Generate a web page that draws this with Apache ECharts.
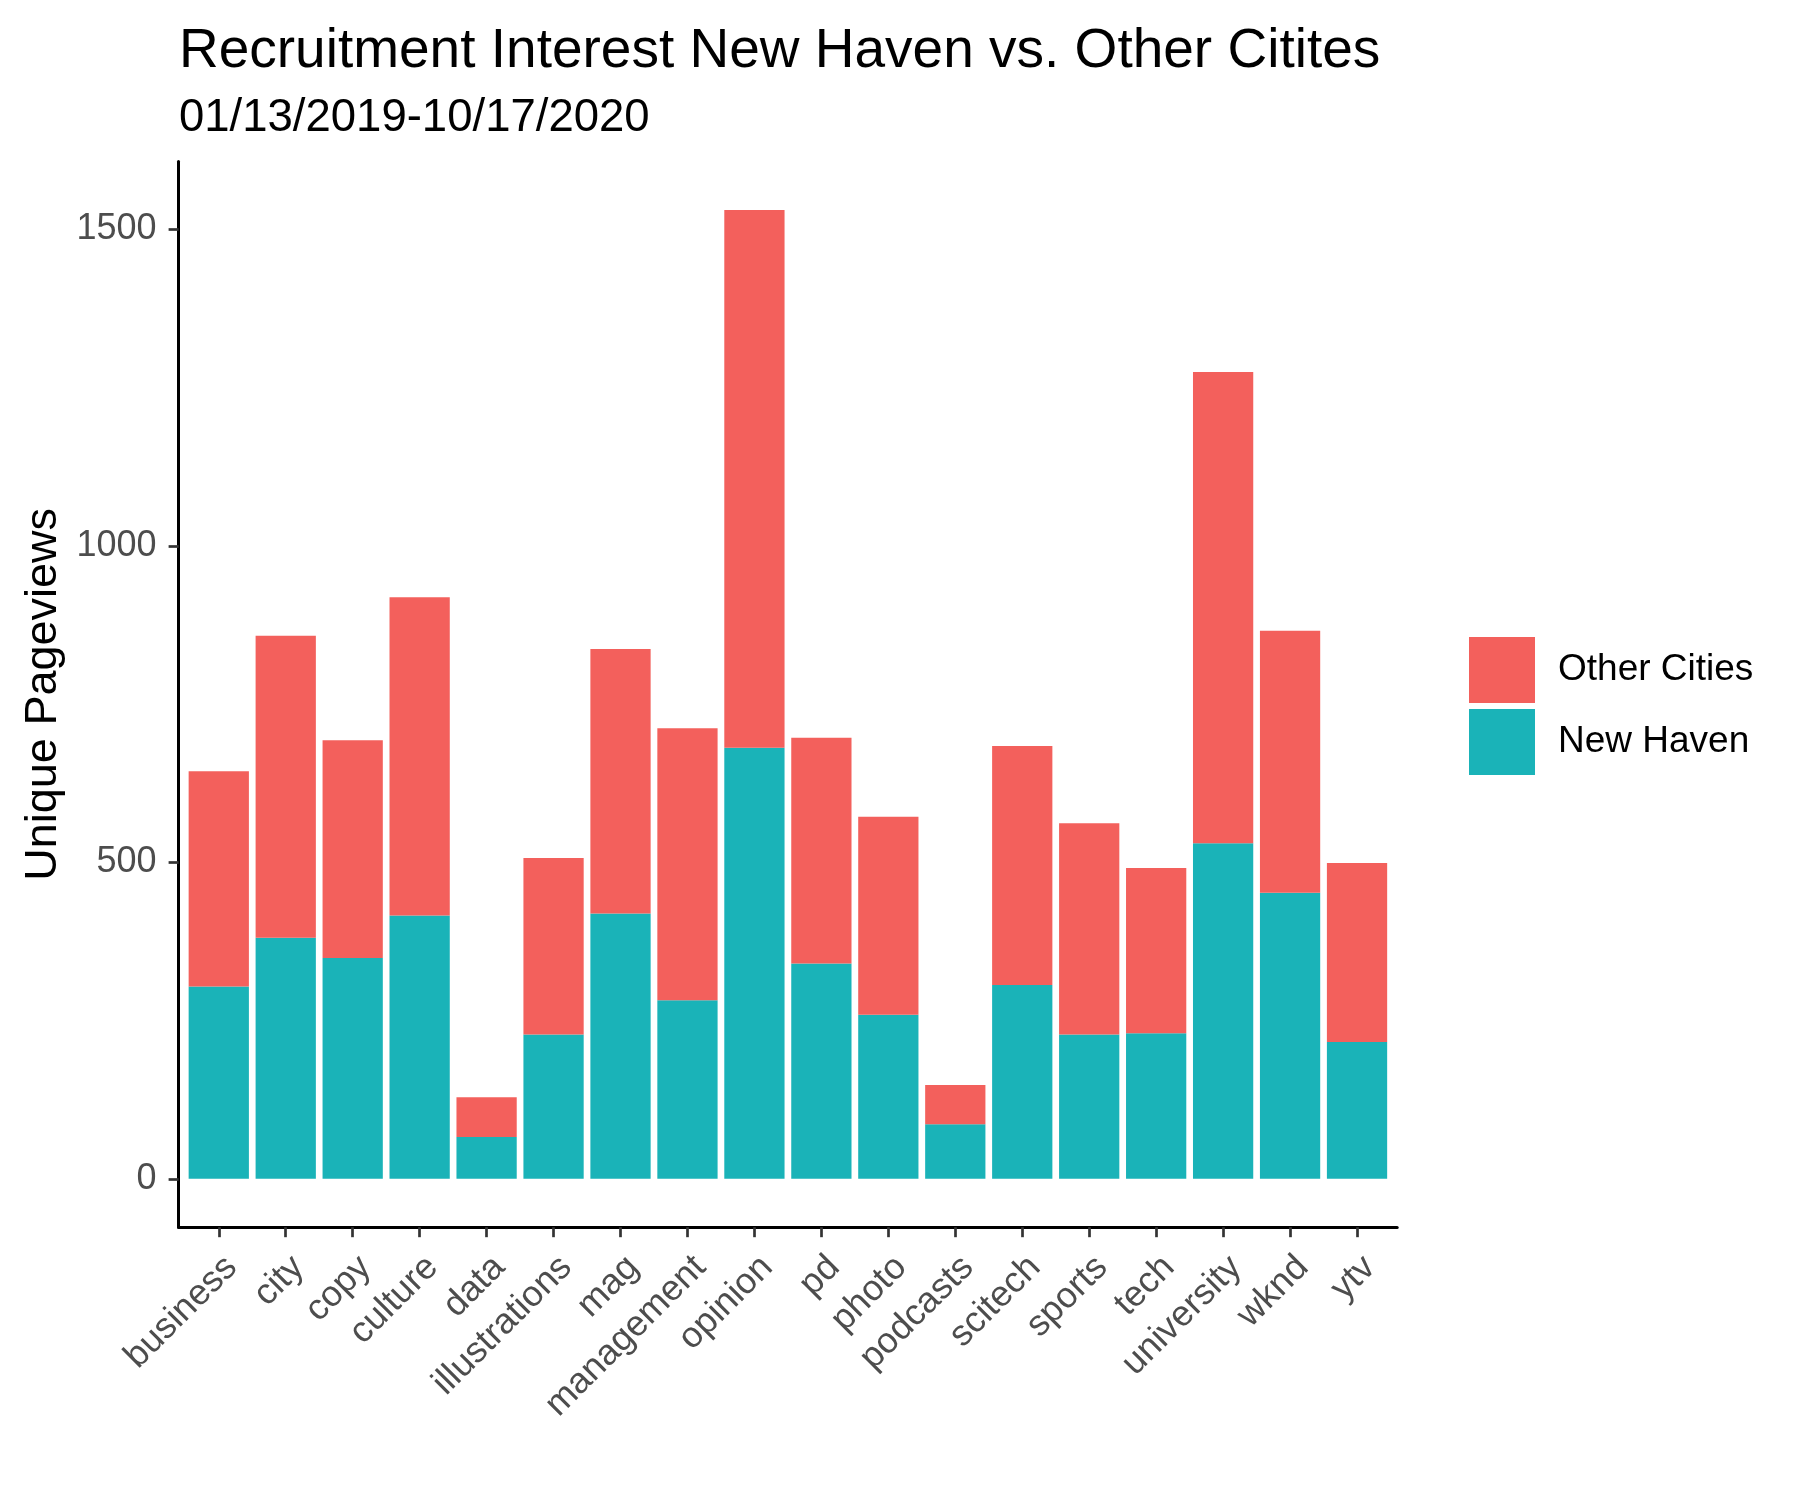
<!DOCTYPE html>
<html>
<head>
<meta charset="utf-8">
<script src="https://cdn.jsdelivr.net/npm/echarts@6/dist/echarts.min.js"></script>
<style>
html,body{margin:0;padding:0;background:#fff;}
#chart{width:1800px;height:1500px;}
</style>
</head>
<body>
<div id="chart"></div>
<script>
var categories = ['business','city','copy','culture','data','illustrations','mag','management','opinion','pd','photo','podcasts','scitech','sports','tech','university','wknd','ytv'];
var newHaven = [304, 381, 349, 416, 66, 228, 419, 282, 681, 340, 259, 86, 306, 228, 230, 530, 452, 216];
var totals = [644, 858, 693, 919, 129, 507, 837, 712, 1531, 697, 572, 148, 684, 562, 491, 1275, 866, 499];
var otherCities = totals.map(function(t, i){ return t - newHaven[i]; });
var yTicks = [0, 500, 1000, 1500];
var titleText = 'Recruitment Interest New Haven vs. Other Citites';
var subtitleText = '01/13/2019-10/17/2020';

var FONT = '"Liberation Sans", Arial, Helvetica, sans-serif';
var maxTotal = Math.max.apply(null, totals);
var pad = maxTotal * 0.05;
var idx = categories.map(function(c, i){ return i; });

// panel geometry (ggplot-like discrete expansion of 0.6 units each side)
var panelLeft = 178.6, panelRight = 1397.2, panelTop = 161.5, panelBottom = 1227.2;
var N = categories.length;
var unit = (panelRight - panelLeft) / (N - 1 + 1.2);
var barsLeft = panelLeft + 0.1 * unit;
var barsWidth = N * unit;

var chart = echarts.init(document.getElementById('chart'), null, {renderer: 'canvas'});
chart.setOption({
  animation: false,
  backgroundColor: '#ffffff',
  textStyle: {fontFamily: FONT},
  title: [
    {text: titleText, left: 174, top: 19, padding: 5, textStyle: {fontFamily: FONT, fontSize: 55, fontWeight: 'normal', color: '#000'}},
    {text: subtitleText, left: 174, top: 90, padding: 5, textStyle: {fontFamily: FONT, fontSize: 45.5, fontWeight: 'normal', color: '#000'}}
  ],
  legend: {
    orient: 'vertical',
    left: 1469,
    top: 637,
    padding: 0,
    itemWidth: 66,
    itemHeight: 66,
    itemGap: 6,
    icon: 'rect',
    data: ['Other Cities', 'New Haven'],
    textStyle: {fontFamily: FONT, fontSize: 37, color: '#000', padding: [6, 0, 0, 18]}
  },
  grid: [
    {left: panelLeft, width: panelRight - panelLeft, top: panelTop, height: panelBottom - panelTop, containLabel: false},
    {left: barsLeft, width: barsWidth, top: panelTop, height: panelBottom - panelTop, containLabel: false}
  ],
  xAxis: [
    {
      type: 'value',
      gridIndex: 0,
      min: -0.6,
      max: N - 1 + 0.6,
      splitLine: {show: false},
      axisLine: {show: true, onZero: false, lineStyle: {color: '#000', width: 3}},
      axisTick: {show: true, length: 10, customValues: idx, lineStyle: {color: '#333', width: 2.7}},
      axisLabel: {
        customValues: idx,
        rotate: 45,
        align: 'right',
        verticalAlign: 'top',
        margin: 22,
        fontFamily: FONT,
        fontSize: 36,
        color: '#4d4d4d',
        formatter: function(v){ return categories[Math.round(v)] || ''; }
      }
    },
    {
      type: 'category',
      gridIndex: 1,
      data: categories,
      show: false
    }
  ],
  yAxis: [
    {
      type: 'value',
      gridIndex: 0,
      min: -pad,
      max: maxTotal + pad,
      name: 'Unique Pageviews',
      nameLocation: 'middle',
      nameGap: 107,
      nameTextStyle: {fontFamily: FONT, fontSize: 45, color: '#000'},
      splitLine: {show: false},
      axisLine: {show: true, onZero: false, lineStyle: {color: '#000', width: 3}},
      axisTick: {show: true, length: 10, customValues: yTicks, lineStyle: {color: '#333', width: 2.7}},
      axisLabel: {customValues: yTicks, margin: 22, fontFamily: FONT, fontSize: 36, color: '#4d4d4d',
        formatter: function(v){ return String(v); }}
    },
    {
      type: 'value',
      gridIndex: 1,
      min: -pad,
      max: maxTotal + pad,
      show: false,
      splitLine: {show: false}
    }
  ],
  series: [
    {
      name: 'New Haven',
      type: 'bar',
      xAxisIndex: 1,
      yAxisIndex: 1,
      stack: 'total',
      barCategoryGap: '10%',
      itemStyle: {color: '#1AB3B8'},
      data: newHaven
    },
    {
      name: 'Other Cities',
      type: 'bar',
      xAxisIndex: 1,
      yAxisIndex: 1,
      stack: 'total',
      barCategoryGap: '10%',
      itemStyle: {color: '#F3605C'},
      data: otherCities
    }
  ]
});
</script>
</body>
</html>
